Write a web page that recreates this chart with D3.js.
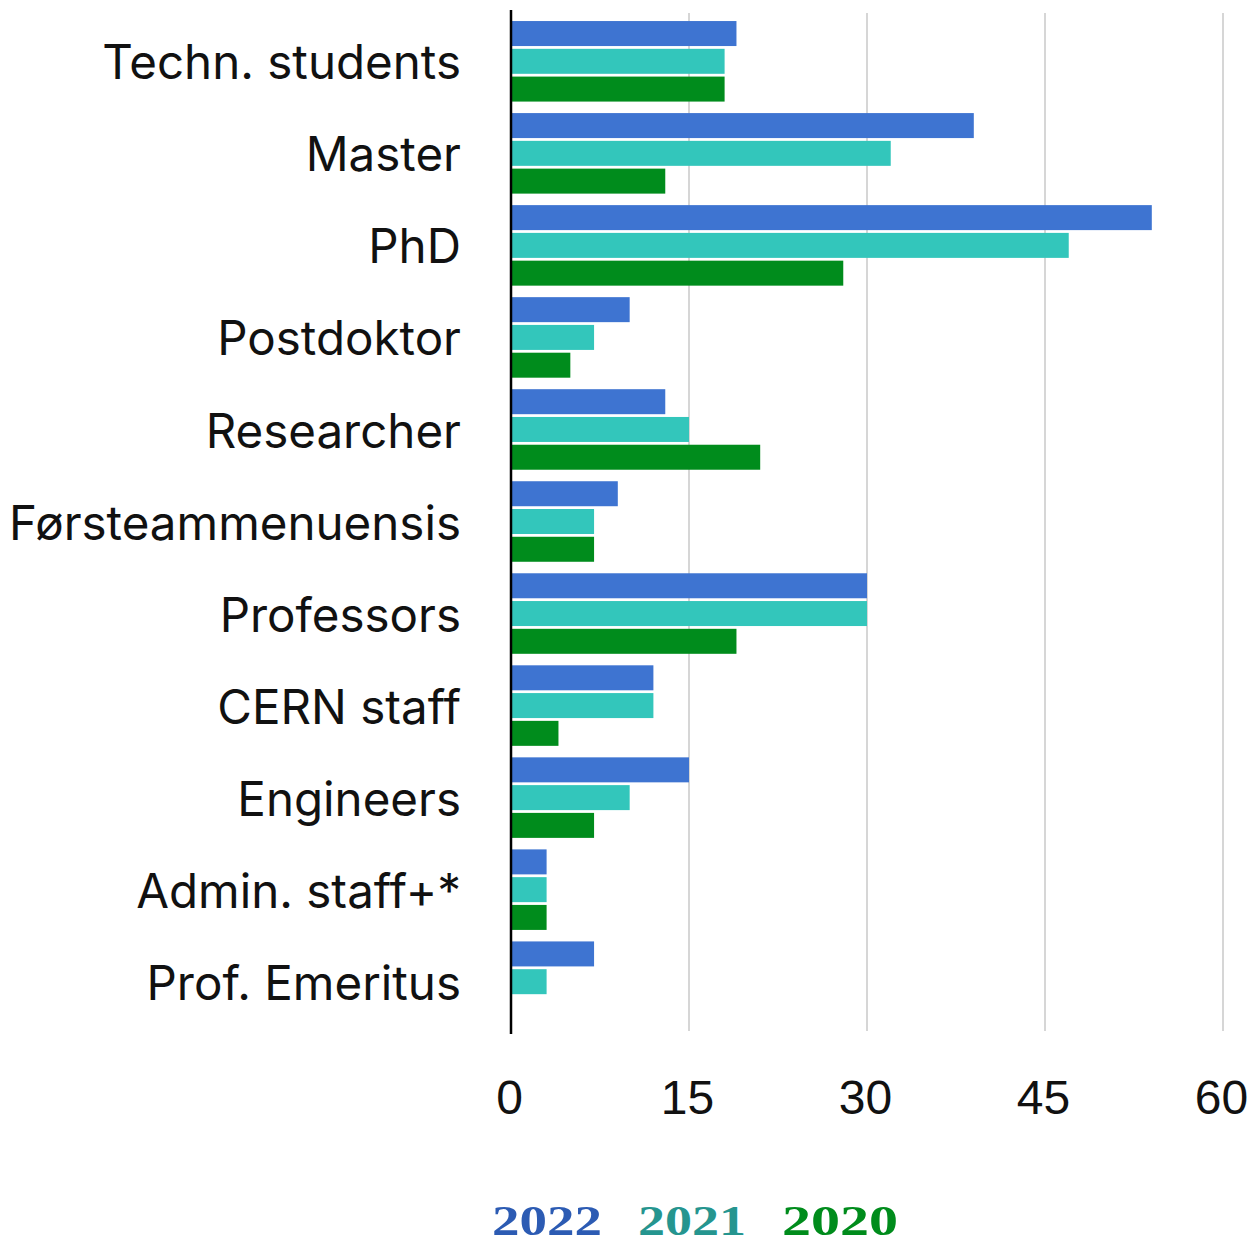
<!DOCTYPE html>
<html>
<head>
<meta charset="utf-8">
<title>Staff by category</title>
<script src="https://cdn.jsdelivr.net/npm/d3@7"></script>
<style>
  body { margin: 0; background: #fff; }
</style>
</head>
<body>
<div id="chart"></div>
<script>
// categories, top to bottom
var categories = ["Techn. students", "Master", "PhD", "Postdoktor", "Researcher",
  "Førsteammenuensis", "Professors", "CERN staff", "Engineers", "Admin. staff+*", "Prof. Emeritus"];

// series values
var years = ["2022", "2021", "2020"];
var v2022 = [19, 39, 54, 10, 13, 9, 30, 12, 15, 3, 7];
var v2021 = [18, 32, 47, 7, 15, 7, 30, 12, 10, 3, 3];
var v2020 = [18, 13, 28, 5, 21, 7, 19, 4, 7, 3, 0];
var ticks = [0, 15, 30, 45, 60];

var barColors = ["#3e74d1", "#33c6bb", "#008c1c"];
var legendColors = ["#2c5bb3", "#25958f", "#008c1c"];

var W = 1258, H = 1243;
var svg = d3.select("#chart").append("svg")
  .attr("width", W).attr("height", H);

var x = d3.scaleLinear().domain([0, 60]).range([511, 1223]);
var y = d3.scaleBand().domain(categories).range([10, 1033])
  .paddingInner(0.125).paddingOuter(0.12);
var ySub = d3.scaleBand().domain(years).range([0, y.bandwidth()]).paddingInner(0.1);

var rows = categories.map(function(c, i) {
  return { cat: c, vals: [v2022[i], v2021[i], v2020[i]] };
});

// grid lines
svg.append("g").selectAll("line")
  .data(ticks.filter(function(t) { return t > 0; }))
  .enter().append("line")
    .attr("x1", function(d) { return x(d); })
    .attr("x2", function(d) { return x(d); })
    .attr("y1", 13).attr("y2", 1031)
    .attr("stroke", "#d6d6d6").attr("stroke-width", 2);

// bars
var groups = svg.append("g").selectAll("g")
  .data(rows).enter().append("g")
  .attr("transform", function(d) { return "translate(0," + y(d.cat) + ")"; });

groups.selectAll("rect")
  .data(function(d) { return d.vals.map(function(v, j) { return { year: years[j], v: v, j: j }; }); })
  .enter().append("rect")
    .attr("x", x(0))
    .attr("y", function(d) { return ySub(d.year); })
    .attr("width", function(d) { return x(d.v) - x(0); })
    .attr("height", ySub.bandwidth())
    .attr("fill", function(d) { return barColors[d.j]; });

// zero axis line
svg.append("line")
  .attr("x1", x(0)).attr("x2", x(0))
  .attr("y1", 10).attr("y2", 1034)
  .attr("stroke", "#000").attr("stroke-width", 2.5);

// category labels
svg.append("g").selectAll("text")
  .data(categories).enter().append("text")
    .attr("x", 461)
    .attr("y", function(d) { return y(d) + y.bandwidth() / 2; })
    .attr("dy", "0.38em")
    .attr("text-anchor", "end")
    .attr("font-family", "Inter, 'Noto Sans', sans-serif")
    .attr("font-size", 47.5)
    .attr("fill", "#111")
    .text(function(d) { return d; });

// x tick labels
var xAxis = d3.axisBottom(x).tickValues(ticks).tickSize(0).tickPadding(0);
var ax = svg.append("g")
  .attr("transform", "translate(-2,1080)")
  .call(xAxis);
ax.select(".domain").remove();
ax.selectAll("text")
  .attr("font-family", "'Liberation Sans', Arial, sans-serif")
  .attr("font-size", 48)
  .attr("fill", "#111")
  .attr("dy", "0.71em");

// legend
var legendX = [492, 638, 782];
var legendW = [110, 108, 116];
svg.append("g").selectAll("text")
  .data(years).enter().append("text")
    .attr("x", function(d, i) { return legendX[i]; })
    .attr("y", 1235)
    .attr("font-family", "'Liberation Serif', 'DejaVu Serif', serif")
    .attr("font-weight", "bold")
    .attr("font-size", 42)
    .attr("textLength", function(d, i) { return legendW[i]; })
    .attr("lengthAdjust", "spacingAndGlyphs")
    .attr("fill", function(d, i) { return legendColors[i]; })
    .text(function(d) { return d; });
</script>
</body>
</html>
